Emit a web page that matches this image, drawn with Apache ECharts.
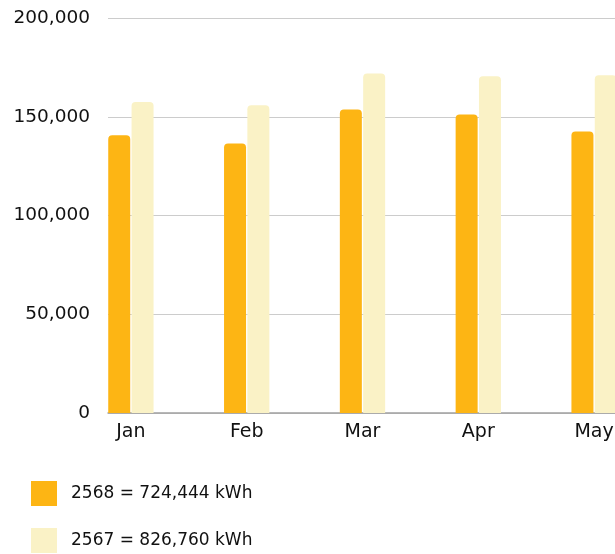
<!doctype html>
<html>
<head>
<meta charset="utf-8" />
<script src="https://cdn.jsdelivr.net/npm/echarts@6/dist/echarts.min.js"></script>
<style>
  html, body { margin: 0; padding: 0; background: #fff; }
  #chart { width: 615px; height: 554px; }
</style>
</head>
<body>
<div id="chart"></div>
<script>
const months = ['Jan', 'Feb', 'Mar', 'Apr', 'May'];
const yearNow = '2568';
const yearPrev = '2567';
const valuesNow = [140600, 136400, 153700, 151200, 142500];
const valuesPrev = [157500, 155800, 171900, 170500, 171000];
const totals = { '2568': '724,444', '2567': '826,760' };
const yTicks = [0, 50000, 100000, 150000, 200000];

const font = 'DejaVu Sans';
const textColor = '#111111';
const chart = echarts.init(document.getElementById('chart'));

const legendBase = {
  left: 31,
  padding: 0,
  itemWidth: 26,
  itemHeight: 25,
  icon: 'rect',
  formatter: (name) => `${name} = ${totals[name]} kWh`,
  textStyle: { fontFamily: font, fontSize: 17, color: textColor, padding: [0, 0, 0, 9] }
};

chart.setOption({
  backgroundColor: '#fff',
  animation: false,
  textStyle: { fontFamily: font },
  // grid 0 draws the frame (gridlines, y labels, x axis line),
  // grid 1 holds the bars, shifted like the scrolled original
  grid: [
    { left: 108, right: 0, top: 18, bottom: 141, outerBoundsMode: 'none' },
    { left: 73, width: 579, top: 18, bottom: 141, outerBoundsMode: 'none' }
  ],
  legend: [
    { ...legendBase, top: 481, data: [yearNow] },
    { ...legendBase, top: 528, data: [yearPrev] }
  ],
  xAxis: [
    {
      gridIndex: 0,
      type: 'category',
      data: months,
      axisLine: { lineStyle: { color: '#a0a0a0', width: 1.5 } },
      axisTick: { show: false },
      axisLabel: { show: false }
    },
    {
      gridIndex: 1,
      type: 'category',
      data: months,
      axisLine: { show: false },
      axisTick: { show: false },
      axisLabel: { fontFamily: font, fontSize: 19, color: textColor, margin: 10 }
    }
  ],
  yAxis: [
    {
      gridIndex: 0,
      type: 'value',
      min: yTicks[0],
      max: yTicks[yTicks.length - 1],
      interval: yTicks[1] - yTicks[0],
      axisLine: { show: false },
      axisTick: { show: false },
      splitLine: { lineStyle: { color: '#cccccc', width: 1 } },
      axisLabel: {
        fontFamily: font,
        fontSize: 18.5,
        color: textColor,
        margin: 18,
        formatter: (v) => v.toLocaleString('en-US')
      }
    },
    {
      gridIndex: 1,
      type: 'value',
      min: yTicks[0],
      max: yTicks[yTicks.length - 1],
      show: false,
      splitLine: { show: false }
    }
  ],
  series: [
    {
      name: yearNow,
      type: 'bar',
      xAxisIndex: 1,
      yAxisIndex: 1,
      data: valuesNow,
      barWidth: 22,
      barGap: '6%',
      itemStyle: { color: '#FDB514', borderRadius: [4, 4, 0, 0] }
    },
    {
      name: yearPrev,
      type: 'bar',
      xAxisIndex: 1,
      yAxisIndex: 1,
      data: valuesPrev,
      barWidth: 22,
      itemStyle: { color: '#FAF2C6', borderRadius: [4, 4, 0, 0] }
    }
  ]
});
</script>
</body>
</html>
